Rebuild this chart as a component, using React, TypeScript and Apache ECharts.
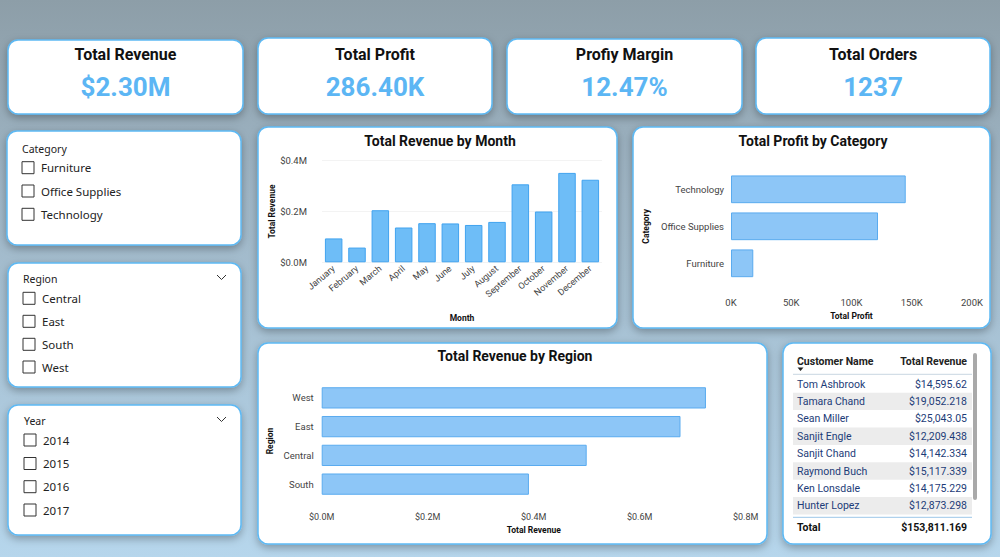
import React, { useEffect, useRef } from "react";
import * as echarts from "echarts";

const kpiTitles = ["Total Revenue", "Total Profit", "Profiy Margin", "Total Orders"];
const kpiValues = ["$2.30M", "286.40K", "12.47%", "1237"];

const months = ["January", "February", "March", "April", "May", "June", "July", "August", "September", "October", "November", "December"];
const monthRevenue = [0.094, 0.058, 0.205, 0.137, 0.154, 0.153, 0.147, 0.159, 0.307, 0.2, 0.352, 0.325];

const categories = ["Furniture", "Office Supplies", "Technology"];
const categoryProfit = [18500, 122000, 145000];

const regions = ["South", "Central", "East", "West"];
const regionRevenue = [0.391, 0.5, 0.677, 0.725];

const slicerCategory = ["Furniture", "Office Supplies", "Technology"];
const slicerRegion = ["Central", "East", "South", "West"];
const slicerYear = ["2014", "2015", "2016", "2017"];

const customers = ["Tom Ashbrook", "Tamara Chand", "Sean Miller", "Sanjit Engle", "Sanjit Chand", "Raymond Buch", "Ken Lonsdale", "Hunter Lopez"];
const customerRevenue = ["$14,595.62", "$19,052.218", "$25,043.05", "$12,209.438", "$14,142.334", "$15,117.339", "$14,175.229", "$12,873.298"];
const tableTotal = "$153,811.169";

const TF = "Roboto, 'DejaVu Sans', sans-serif";
const UF = "'Noto Sans', 'Open Sans', sans-serif";

function txt(text: string, x: number, y: number, o: any = {}) {
  return {
    type: "text",
    x,
    y,
    z: 30,
    silent: true,
    style: {
      text,
      fill: o.fill || "#111",
      fontSize: o.size || 12,
      fontFamily: o.family || TF,
      fontWeight: o.weight || "normal",
      align: o.align || "left",
      textAlign: o.align || "left",
      verticalAlign: "middle",
      textVerticalAlign: "middle",
    },
  };
}

function card(x: number, y: number, w: number, h: number) {
  return {
    type: "rect",
    z: 1,
    silent: true,
    shape: { x, y, width: w, height: h, r: 10 },
    style: {
      fill: "#ffffff",
      stroke: "#5db9f4",
      lineWidth: 1.5,
      shadowBlur: 8,
      shadowColor: "rgba(0,0,0,0.3)",
      shadowOffsetY: 3,
    },
  };
}

function box(x: number, y: number) {
  return {
    type: "rect",
    z: 30,
    silent: true,
    shape: { x, y: y - 6, width: 12, height: 12 },
    style: { fill: "#fff", stroke: "#333", lineWidth: 1 },
  };
}

function chevron(x: number, y: number) {
  return {
    type: "polyline",
    z: 30,
    silent: true,
    shape: { points: [[x - 4.5, y - 2], [x, y + 2.5], [x + 4.5, y - 2]] },
    style: { stroke: "#333", lineWidth: 1, fill: "none" },
  };
}

function buildGraphics() {
  const g: any[] = [];
  g.push({
    type: "rect",
    z: 0,
    silent: true,
    shape: { x: 0, y: 0, width: 1000, height: 557 },
    style: {
      fill: new echarts.graphic.LinearGradient(0, 0, 0, 1, [
        { offset: 0, color: "#8d9ea8" },
        { offset: 0.35, color: "#9fb6c6" },
        { offset: 1, color: "#b6d6ec" },
      ]),
    },
  });
  const kpiBoxes = [
    [8, 40, 235, 74],
    [258, 38, 234, 76],
    [507, 39, 235, 75],
    [756, 38, 234, 76],
  ];
  kpiBoxes.forEach((b, i) => {
    g.push(card(b[0], b[1], b[2], b[3]));
    const cx = b[0] + b[2] / 2;
    g.push(txt(kpiTitles[i], cx, 54, { size: 16, weight: "bold", align: "center", fill: "#111" }));
    g.push(txt(kpiValues[i], cx, 87, { size: 26, weight: "bold", align: "center", fill: "#5cb6f4" }));
  });

  // slicers
  g.push(card(7, 131, 234, 114));
  g.push(card(8, 263, 233, 124));
  g.push(card(8, 405, 233, 130));
  g.push(txt("Category", 22, 149, { size: 10.5, family: UF, fill: "#222" }));
  const catY = [167.7, 191, 214.3];
  slicerCategory.forEach((s, i) => {
    g.push(box(22, catY[i]));
    g.push(txt(s, 41, catY[i], { size: 11.5, family: UF, fill: "#222" }));
  });
  g.push(txt("Region", 23, 279, { size: 10.5, family: UF, fill: "#222" }));
  g.push(chevron(221.5, 277));
  const regY = [298.3, 321.3, 344.3, 367];
  slicerRegion.forEach((s, i) => {
    g.push(box(23, regY[i]));
    g.push(txt(s, 42, regY[i], { size: 11.5, family: UF, fill: "#222" }));
  });
  g.push(txt("Year", 24, 421, { size: 10.5, family: UF, fill: "#222" }));
  g.push(chevron(221.5, 419));
  const yrY = [440, 463.5, 486.7, 510];
  slicerYear.forEach((s, i) => {
    g.push(box(24, yrY[i]));
    g.push(txt(s, 43, yrY[i], { size: 11.5, family: UF, fill: "#222" }));
  });

  // chart cards
  g.push(card(258, 127, 359, 201));
  g.push(card(633, 127, 357, 201));
  g.push(card(258, 343, 509, 201));
  g.push(card(783, 343, 208, 201));
  g.push(txt("Total Revenue by Month", 440, 141, { size: 14, weight: "bold", align: "center" }));
  g.push(txt("Total Profit by Category", 813, 141, { size: 14, weight: "bold", align: "center" }));
  g.push(txt("Total Revenue by Region", 515, 356, { size: 14, weight: "bold", align: "center" }));

  // table
  g.push(txt("Customer Name", 797, 361, { size: 10.5, weight: "bold", fill: "#222" }));
  g.push(txt("Total Revenue", 967, 361, { size: 10.5, weight: "bold", fill: "#222", align: "right" }));
  g.push({
    type: "polygon",
    z: 30,
    silent: true,
    shape: { points: [[797.5, 367.5], [803.5, 367.5], [800.5, 371]] },
    style: { fill: "#222" },
  });
  g.push({
    type: "line",
    z: 30,
    silent: true,
    shape: { x1: 793, y1: 374.3, x2: 972, y2: 374.3 },
    style: { stroke: "#c9d6e2", lineWidth: 1 },
  });
  customers.forEach((c, i) => {
    const cy = 384 + i * 17.4;
    if (i % 2 === 1) {
      g.push({
        type: "rect",
        z: 20,
        silent: true,
        shape: { x: 793, y: cy - 8.7, width: 179, height: 17.4 },
        style: { fill: "#ececec" },
      });
    }
    g.push(txt(c, 797, cy, { size: 10.5, fill: "#1d3c78" }));
    g.push(txt(customerRevenue[i], 967, cy, { size: 10.5, fill: "#1d3c78", align: "right" }));
  });
  g.push({
    type: "line",
    z: 30,
    silent: true,
    shape: { x1: 793, y1: 517.3, x2: 972, y2: 517.3 },
    style: { stroke: "#9cc6e8", lineWidth: 1 },
  });
  g.push(txt("Total", 797, 527.5, { size: 10.5, weight: "bold", fill: "#111" }));
  g.push(txt(tableTotal, 967, 527.5, { size: 10.5, weight: "bold", fill: "#111", align: "right" }));
  g.push({
    type: "rect",
    z: 30,
    silent: true,
    shape: { x: 973, y: 353, width: 4, height: 147, r: 2 },
    style: { fill: "#a9a9a9" },
  });
  return g;
}

const axisLabel = { color: "#444", fontFamily: TF, fontSize: 9.5 };
const axisName = { color: "#111", fontFamily: TF, fontSize: 8.5, fontWeight: "bold" };

export default function App() {
  const ref = useRef<HTMLDivElement>(null);
  useEffect(() => {
    document.body.style.margin = "0";
    const chart = echarts.init(ref.current!, undefined, { renderer: "svg" });
    chart.setOption({
      animation: false,
      graphic: { elements: buildGraphics() },
      grid: [
        { left: 322, top: 160.7, width: 280, height: 101.6, z: 10 },
        { left: 731, top: 170.8, width: 241, height: 111, z: 10 },
        { left: 321.7, top: 383.5, width: 424, height: 115, z: 10 },
      ],
      xAxis: [
        {
          gridIndex: 0,
          type: "category",
          data: months,
          z: 10,
          axisLine: { show: false },
          axisTick: { show: false },
          axisLabel: { ...axisLabel, fontSize: 9, rotate: 40, interval: 0, margin: 5 },
          name: "Month",
          nameLocation: "middle",
          nameGap: 51,
          nameTextStyle: axisName,
        },
        {
          gridIndex: 1,
          type: "value",
          min: 0,
          max: 200000,
          interval: 50000,
          z: 10,
          axisLine: { show: false },
          axisTick: { show: false },
          splitLine: { show: false },
          axisLabel: { ...axisLabel, margin: 16, formatter: (v: number) => `${v / 1000}K` },
          name: "Total Profit",
          nameLocation: "middle",
          nameGap: 30,
          nameTextStyle: axisName,
        },
        {
          gridIndex: 2,
          type: "value",
          min: 0,
          max: 0.8,
          interval: 0.2,
          z: 10,
          axisLine: { show: false },
          axisTick: { show: false },
          splitLine: { show: false },
          axisLabel: { ...axisLabel, fontSize: 9, margin: 14, formatter: (v: number) => `$${v.toFixed(1)}M` },
          name: "Total Revenue",
          nameLocation: "middle",
          nameGap: 27,
          nameTextStyle: axisName,
        },
      ],
      yAxis: [
        {
          gridIndex: 0,
          type: "value",
          min: 0,
          max: 0.4,
          interval: 0.2,
          z: 10,
          axisLine: { show: false },
          axisTick: { show: false },
          splitLine: { show: true, lineStyle: { color: "#f3f3f3" } },
          axisLabel: { ...axisLabel, margin: 15, formatter: (v: number) => `$${v.toFixed(1)}M` },
          name: "Total Revenue",
          nameLocation: "middle",
          nameGap: 46,
          nameTextStyle: axisName,
        },
        {
          gridIndex: 1,
          type: "category",
          data: categories,
          z: 10,
          axisLine: { show: false },
          axisTick: { show: false },
          axisLabel: { ...axisLabel, margin: 7 },
          name: "Category",
          nameLocation: "middle",
          nameGap: 81,
          nameTextStyle: axisName,
        },
        {
          gridIndex: 2,
          type: "category",
          data: regions,
          z: 10,
          axisLine: { show: false },
          axisTick: { show: false },
          axisLabel: { ...axisLabel, margin: 8 },
          name: "Region",
          nameLocation: "middle",
          nameGap: 47,
          nameTextStyle: axisName,
        },
      ],
      series: [
        {
          type: "bar",
          xAxisIndex: 0,
          yAxisIndex: 0,
          data: monthRevenue,
          z: 10,
          barCategoryGap: "25%",
          itemStyle: { color: "#6ebdf7", borderColor: "#40a3ef", borderWidth: 1 },
        },
        {
          type: "bar",
          xAxisIndex: 1,
          yAxisIndex: 1,
          data: categoryProfit,
          z: 10,
          barCategoryGap: "25%",
          itemStyle: { color: "#8dc6f7", borderColor: "#5aabef", borderWidth: 1 },
        },
        {
          type: "bar",
          xAxisIndex: 2,
          yAxisIndex: 2,
          data: regionRevenue,
          z: 10,
          barCategoryGap: "26%",
          itemStyle: { color: "#8dc6f7", borderColor: "#5aabef", borderWidth: 1 },
        },
      ],
    });
    return () => chart.dispose();
  }, []);
  return <div ref={ref} style={{ position: "absolute", left: 0, top: 0, width: 1000, height: 557 }} />;
}
